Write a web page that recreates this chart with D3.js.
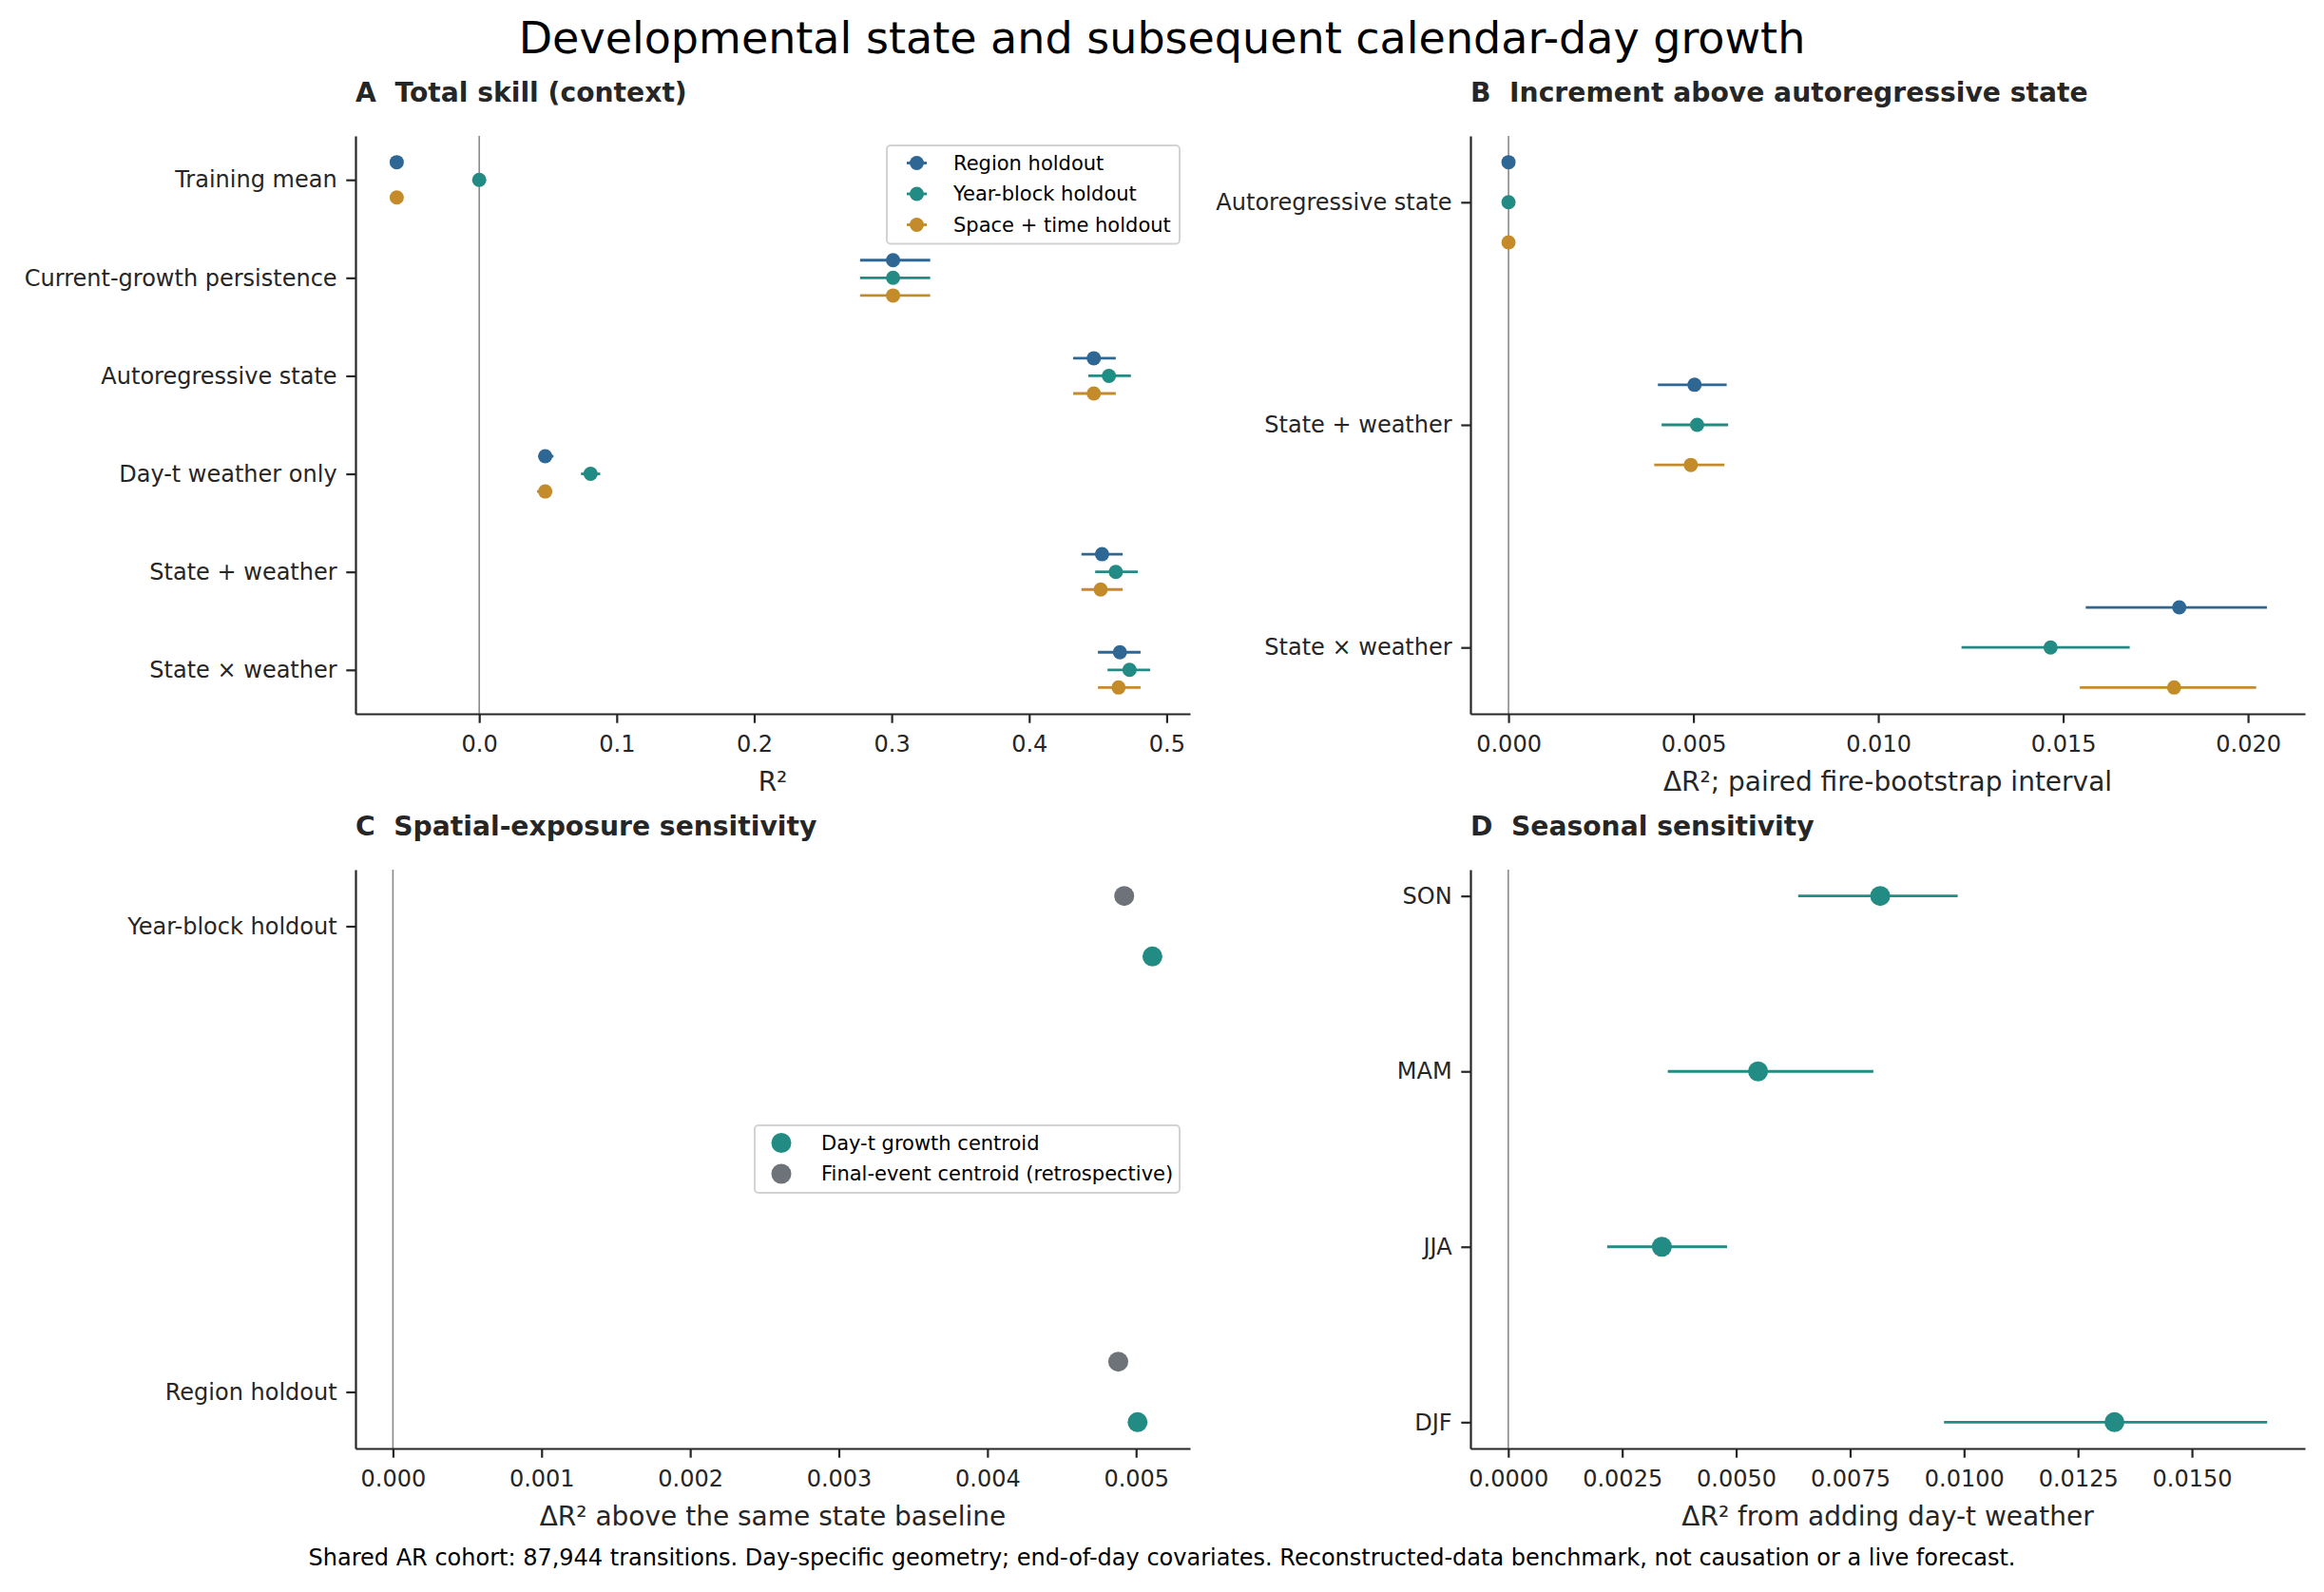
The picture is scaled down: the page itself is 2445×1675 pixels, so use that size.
<!DOCTYPE html>
<html>
<head>
<meta charset="utf-8">
<script src="https://cdn.jsdelivr.net/npm/d3@7"></script>
<style>
body { margin: 0; background: #fff; }
text { font-family: "DejaVu Sans", sans-serif; }
</style>
</head>
<body>
<svg id="chart" width="2445" height="1675"></svg>
<script>
// values
var holdouts = ["Region holdout", "Year-block holdout", "Space + time holdout"];

var modelsA = ["Training mean", "Current-growth persistence", "Autoregressive state",
               "Day-t weather only", "State + weather", "State × weather"];
var regionA   = [-0.060, 0.301, 0.447, 0.048, 0.453, 0.466];
var regionALo = [-0.060, 0.277, 0.432, 0.043, 0.438, 0.450];
var regionAHi = [-0.060, 0.328, 0.463, 0.054, 0.468, 0.481];
var yearA     = [0.000, 0.301, 0.458, 0.081, 0.463, 0.473];
var yearALo   = [0.000, 0.277, 0.443, 0.074, 0.448, 0.457];
var yearAHi   = [0.000, 0.328, 0.474, 0.088, 0.479, 0.488];
var spaceA    = [-0.060, 0.301, 0.447, 0.048, 0.452, 0.465];
var spaceALo  = [-0.060, 0.277, 0.432, 0.042, 0.438, 0.450];
var spaceAHi  = [-0.060, 0.328, 0.463, 0.053, 0.468, 0.481];

var modelsB = ["Autoregressive state", "State + weather", "State × weather"];
var regionB   = [0, 0.00503, 0.01814];
var regionBLo = [0, 0.00404, 0.01561];
var regionBHi = [0, 0.00590, 0.02051];
var yearB     = [0, 0.00510, 0.01466];
var yearBLo   = [0, 0.00414, 0.01225];
var yearBHi   = [0, 0.00594, 0.01680];
var spaceB    = [0, 0.00493, 0.01800];
var spaceBLo  = [0, 0.00394, 0.01545];
var spaceBHi  = [0, 0.00584, 0.02022];

var holdoutsC = ["Region holdout", "Year-block holdout"];
var centroids = ["Day-t growth centroid", "Final-event centroid (retrospective)"];
var growthC = [0.00501, 0.00511];
var finalC  = [0.00488, 0.00492];

var seasons   = ["DJF", "JJA", "MAM", "SON"];
var seasonD   = [0.01330, 0.00337, 0.00548, 0.00816];
var seasonDLo = [0.00956, 0.00217, 0.00350, 0.00636];
var seasonDHi = [0.01665, 0.00480, 0.00801, 0.00986];

var ticksA = [0, 0.1, 0.2, 0.3, 0.4, 0.5];
var ticksB = [0, 0.005, 0.010, 0.015, 0.020];
var ticksC = [0, 0.001, 0.002, 0.003, 0.004, 0.005];
var ticksD = [0, 0.0025, 0.005, 0.0075, 0.010, 0.0125, 0.015];

var titleText = "Developmental state and subsequent calendar-day growth";
var footText = "Shared AR cohort: 87,944 transitions. Day-specific geometry; end-of-day covariates. Reconstructed-data benchmark, not causation or a live forecast.";

// styles
var ink = "#262626";
var cBlue = "#2e6694", cTeal = "#228b84", cGold = "#c48b2b", cGray = "#6e7379";
var tick = 9.7, xTickFont = 24, yTickFont = 24, legFont = 21;

var svg = d3.select("#chart");
svg.append("rect").attr("width", 2445).attr("height", 1675).attr("fill", "#fff");

svg.append("text").attr("x", 1222.5).attr("y", 56).attr("text-anchor", "middle")
    .attr("font-size", 46).attr("fill", "#000").text(titleText);
svg.append("text").attr("x", 1222.5).attr("y", 1647).attr("text-anchor", "middle")
    .attr("font-size", 24).attr("fill", "#000").text(footText);

function panel(o)
{
    var g = svg.append("g").attr("transform", "translate(" + o.left + "," + o.top + ")");
    var x = d3.scaleLinear().domain(o.xDomain).range([0, o.w]);
    var y = d3.scaleLinear().domain(o.yDomain).range([0, o.h]);

    g.append("line")
        .attr("x1", x(0)).attr("x2", x(0)).attr("y1", 0).attr("y2", o.h)
        .attr("stroke", "#8a8a8a").attr("stroke-width", 1.6);

    var xa = g.append("g").attr("transform", "translate(0," + o.h + ")")
        .call(d3.axisBottom(x).tickValues(o.xTicks).tickFormat(d3.format(o.fmt))
            .tickSize(tick).tickPadding(13.5).tickSizeOuter(0));
    var ya = g.append("g")
        .call(d3.axisLeft(y).tickValues(d3.range(o.cats.length))
            .tickFormat(function(i) { return o.cats[i]; })
            .tickSize(tick).tickPadding(tick).tickSizeOuter(0));

    xa.attr("font-size", xTickFont);
    ya.attr("font-size", yTickFont);
    [xa, ya].forEach(function(a) {
        a.attr("font-family", null);
        a.selectAll("path, line").attr("stroke", ink).attr("stroke-width", 2.2);
        a.selectAll("text").attr("fill", ink);
    });

    g.append("text").attr("x", 0).attr("y", -36)
        .attr("font-size", 28.2).attr("font-weight", "bold").attr("fill", ink)
        .style("white-space", "pre").text(o.title);
    g.append("text").attr("x", o.w / 2).attr("y", o.h + 81).attr("text-anchor", "middle")
        .attr("font-size", 28).attr("fill", ink).text(o.xlabel);

    return { g: g, x: x, y: y, o: o };
}

function series(p, vals, lo, hi, off, color, r)
{
    var idx = d3.range(vals.length);
    var s = p.g.append("g");
    if (lo) {
        s.selectAll("line").data(idx.filter(function(i) { return hi[i] > lo[i]; })).join("line")
            .attr("x1", function(i) { return p.x(lo[i]); })
            .attr("x2", function(i) { return p.x(hi[i]); })
            .attr("y1", function(i) { return p.y(i + off); })
            .attr("y2", function(i) { return p.y(i + off); })
            .attr("stroke", color).attr("stroke-width", 2.8);
    }
    s.selectAll("circle").data(idx).join("circle")
        .attr("cx", function(i) { return p.x(vals[i]); })
        .attr("cy", function(i) { return p.y(i + off); })
        .attr("r", r).attr("fill", color);
}

function legend(x, y, w, names, colors, r, bar)
{
    var rowH = 32.5;
    var h = names.length * rowH + 6;
    var g = svg.append("g").attr("transform", "translate(" + x + "," + y + ")");
    g.append("rect").attr("width", w).attr("height", h).attr("rx", 4)
        .attr("fill", "#fff").attr("fill-opacity", 0.8)
        .attr("stroke", "#d3d3d3").attr("stroke-width", 2);
    names.forEach(function(n, i) {
        var cy = 18.5 + i * rowH;
        if (bar) {
            g.append("line").attr("x1", 21).attr("x2", 42).attr("y1", cy).attr("y2", cy)
                .attr("stroke", colors[i]).attr("stroke-width", 2.8);
        }
        g.append("circle").attr("cx", bar ? 31.5 : 28).attr("cy", cy).attr("r", r).attr("fill", colors[i]);
        g.append("text").attr("x", 70).attr("y", cy + 7.3)
            .attr("font-size", legFont).attr("fill", "#000").text(n);
    });
}

// A
var pA = panel({ left: 374, top: 143, w: 878, h: 608, xDomain: [-0.090, 0.517], yDomain: [-0.448, 5.448],
    xTicks: ticksA, fmt: ".1f", cats: modelsA, title: "A  Total skill (context)", xlabel: "R²" });
series(pA, regionA, regionALo, regionAHi, -0.18, cBlue, 7.5);
series(pA, yearA, yearALo, yearAHi, 0, cTeal, 7.5);
series(pA, spaceA, spaceALo, spaceAHi, 0.18, cGold, 7.5);
legend(933, 153, 308, holdouts, [cBlue, cTeal, cGold], 7.5, true);

// B
var pB = panel({ left: 1547, top: 143, w: 878, h: 608, xDomain: [-0.00103, 0.02154], yDomain: [-0.298, 2.298],
    xTicks: ticksB, fmt: ".3f", cats: modelsB, title: "B  Increment above autoregressive state",
    xlabel: "ΔR²; paired fire-bootstrap interval" });
series(pB, regionB, regionBLo, regionBHi, -0.18, cBlue, 7.5);
series(pB, yearB, yearBLo, yearBHi, 0, cTeal, 7.5);
series(pB, spaceB, spaceBLo, spaceBHi, 0.18, cGold, 7.5);

// C
var pC = panel({ left: 374, top: 915, w: 878, h: 609, xDomain: [-0.000252, 0.005363], yDomain: [1.1215, -0.1215],
    xTicks: ticksC, fmt: ".3f", cats: holdoutsC, title: "C  Spatial-exposure sensitivity",
    xlabel: "ΔR² above the same state baseline" });
series(pC, growthC, null, null, -0.065, cTeal, 10.5);
series(pC, finalC, null, null, 0.065, cGray, 10.5);
legend(794, 1184, 447, centroids, [cTeal, cGray], 10.5, false);

// D
var pD = panel({ left: 1547, top: 915, w: 878, h: 609, xDomain: [-0.00083, 0.01748], yDomain: [3.15, -0.15],
    xTicks: ticksD, fmt: ".4f", cats: seasons, title: "D  Seasonal sensitivity",
    xlabel: "ΔR² from adding day-t weather" });
series(pD, seasonD, seasonDLo, seasonDHi, 0, cTeal, 10.5);
</script>
</body>
</html>
